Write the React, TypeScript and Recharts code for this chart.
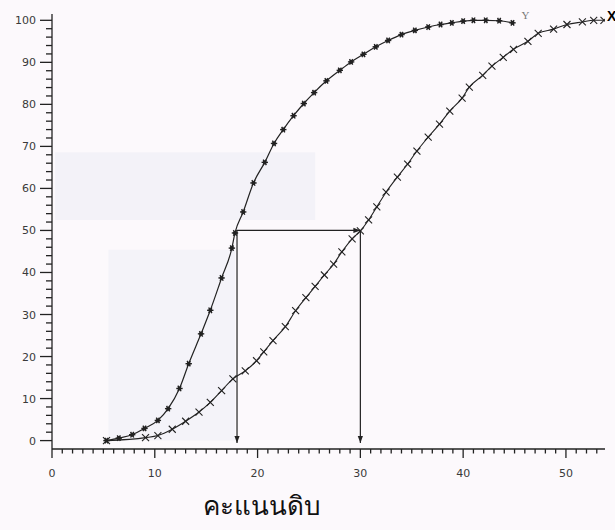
import React from "react";
import { LineChart, Line, XAxis, YAxis, ReferenceLine, ReferenceArea } from "recharts";

// curve Y (steeper, star markers)
const scoreY = [5.3, 6.5, 7.8, 9.0, 10.3, 11.3, 12.4, 13.3, 14.5, 15.4, 16.5, 17.5, 17.8, 18.6, 19.6, 20.7, 21.6, 22.5, 23.5, 24.5, 25.5, 26.7, 28.0, 29.1, 30.3, 31.5, 32.7, 34.0, 35.3, 36.6, 37.8, 38.9, 40.0, 41.0, 42.2, 43.5, 44.8];
const pctY = [0, 0.6, 1.4, 2.9, 4.8, 7.6, 12.4, 18.3, 25.4, 31.0, 38.7, 45.8, 49.4, 54.4, 61.3, 66.2, 70.7, 74.0, 77.3, 80.2, 82.8, 85.6, 88.1, 90.1, 91.9, 93.7, 95.2, 96.6, 97.6, 98.4, 99.0, 99.4, 99.8, 100, 100, 99.9, 99.4];

// curve X (cross markers)
const scoreX = [5.3, 9.1, 10.3, 11.7, 13.0, 14.3, 15.4, 16.5, 17.6, 18.8, 19.9, 20.6, 21.5, 22.7, 23.7, 24.7, 25.6, 26.5, 27.4, 28.2, 29.2, 30.0, 30.8, 31.6, 32.5, 33.6, 34.6, 35.5, 36.6, 37.7, 38.7, 39.9, 40.6, 41.9, 42.8, 43.9, 44.9, 46.3, 47.3, 48.8, 50.1, 51.6, 52.7, 53.7];
const pctX = [0, 0.7, 1.2, 2.7, 4.6, 6.8, 9.1, 11.9, 14.7, 16.6, 19.0, 21.1, 23.8, 27.1, 30.9, 34.0, 36.7, 39.4, 42.0, 44.9, 48.0, 49.9, 52.5, 55.6, 59.1, 62.7, 65.8, 68.9, 72.2, 75.3, 78.4, 81.5, 84.1, 86.9, 89.1, 91.2, 93.1, 95.0, 96.9, 97.9, 99.0, 99.6, 100, 100];

const xLabels = [0, 10, 20, 30, 40, 50];
const yLabels = [0, 10, 20, 30, 40, 50, 60, 70, 80, 90, 100];
const xTicks = Array.from({ length: 54 }, (_, i) => i);
const yTicks = Array.from({ length: 51 }, (_, i) => i * 2);

const dataY = scoreY.map((x, i) => ({ x, y: pctY[i] }));
const dataX = scoreX.map((x, i) => ({ x, y: pctX[i] }));

const INK = "#222";

const YTick = (props: any) => {
  const { x, y, payload } = props;
  const major = yLabels.includes(payload.value);
  return (
    <g>
      <line x1={x - (major ? 12 : 6)} x2={x} y1={y} y2={y} stroke={INK} strokeWidth={1.3} />
      {major && (
        <text x={x - 16} y={y} dy={4} textAnchor="end" fontSize={11} fill="#3a3a3a" fontFamily="DejaVu Sans">
          {payload.value}
        </text>
      )}
    </g>
  );
};

const XTick = (props: any) => {
  const { x, y, payload } = props;
  const major = xLabels.includes(payload.value);
  return (
    <g>
      <line x1={x} x2={x} y1={y} y2={y + (major ? 9 : 4.5)} stroke={INK} strokeWidth={1.3} />
      {major && (
        <text x={x} y={y + 28} textAnchor="middle" fontSize={11} fill="#3a3a3a" fontFamily="DejaVu Sans">
          {payload.value}
        </text>
      )}
    </g>
  );
};

const StarDot = (props: any) => {
  const { cx, cy, index } = props;
  const r = 3.2;
  return (
    <g key={`s${index}`} stroke={INK} strokeWidth={1.4}>
      <line x1={cx - r} y1={cy} x2={cx + r} y2={cy} />
      <line x1={cx - r / 2} y1={cy - r * 0.87} x2={cx + r / 2} y2={cy + r * 0.87} />
      <line x1={cx + r / 2} y1={cy - r * 0.87} x2={cx - r / 2} y2={cy + r * 0.87} />
      <circle cx={cx} cy={cy} r={1.3} fill={INK} />
    </g>
  );
};

const CrossDot = (props: any) => {
  const { cx, cy, index } = props;
  const r = 3.5;
  return (
    <g key={`c${index}`} stroke={INK} strokeWidth={1.1}>
      <line x1={cx - r} y1={cy - r} x2={cx + r} y2={cy + r} />
      <line x1={cx - r} y1={cy + r} x2={cx + r} y2={cy - r} />
    </g>
  );
};

const Arrow = (props: any) => {
  const { x1, y1, x2, y2 } = props;
  const dx = x2 - x1;
  const dy = y2 - y1;
  const len = Math.sqrt(dx * dx + dy * dy) || 1;
  const ux = dx / len;
  const uy = dy / len;
  const L = 7;
  const W = 2.6;
  const bx = x2 - ux * L;
  const by = y2 - uy * L;
  return (
    <g>
      <line x1={x1} y1={y1} x2={x2} y2={y2} stroke={INK} strokeWidth={1.2} />
      <path
        d={`M${x2},${y2} L${bx - uy * W},${by + ux * W} L${bx + uy * W},${by - ux * W} Z`}
        fill={INK}
      />
    </g>
  );
};

const endLabel = (text: string, last: number, style: any) => (props: any) => {
  const { x, y, index } = props;
  if (index !== last) return null;
  return (
    <text x={x + style.dx} y={y + style.dy} {...style.attrs}>
      {text}
    </text>
  );
};

export default function App() {
  return (
    <div style={{ position: "absolute", left: 0, top: 0, width: 615, height: 530, background: "#fcf9fc", overflow: "hidden" }}>
      <LineChart width={615} height={530} data={dataY} margin={{ top: 14, right: 10, left: 12, bottom: 51 }}>
        <XAxis
          type="number"
          dataKey="x"
          domain={[0, 53.8]}
          ticks={xTicks}
          interval={0}
          tick={<XTick />}
          tickLine={false}
          tickSize={0}
          tickMargin={0}
          height={30}
          stroke={INK}
          strokeWidth={1.3}
          allowDataOverflow
        />
        <YAxis
          type="number"
          domain={[-2, 101.5]}
          ticks={yTicks}
          interval={0}
          tick={<YTick />}
          tickLine={false}
          tickSize={0}
          tickMargin={0}
          width={40}
          stroke={INK}
          strokeWidth={1.3}
          allowDataOverflow
        />
        <ReferenceArea x1={0.3} x2={25.6} y1={52.5} y2={68.6} fill="#e6e9f3" fillOpacity={0.4} stroke="none" />
        <ReferenceArea x1={5.5} x2={17.8} y1={0} y2={45.4} fill="#e6e9f3" fillOpacity={0.35} stroke="none" />
        <ReferenceLine segment={[{ x: 18, y: 50 }, { x: 30, y: 50 }]} shape={Arrow} />
        <ReferenceLine segment={[{ x: 18, y: 50 }, { x: 18, y: -0.6 }]} shape={Arrow} />
        <ReferenceLine segment={[{ x: 30, y: 50 }, { x: 30, y: -0.6 }]} shape={Arrow} />
        <Line
          data={dataY}
          dataKey="y"
          type="monotone"
          stroke={INK}
          strokeWidth={1.2}
          dot={StarDot}
          activeDot={false}
          isAnimationActive={false}
          label={endLabel("Y", dataY.length - 1, {
            dx: 9,
            dy: -4,
            attrs: { fontSize: 11, fill: "#777", fontFamily: "Liberation Serif" },
          })}
        />
        <Line
          data={dataX}
          dataKey="y"
          type="monotone"
          stroke={INK}
          strokeWidth={1.1}
          dot={CrossDot}
          activeDot={false}
          isAnimationActive={false}
          label={endLabel("X", dataX.length - 1, {
            dx: 3,
            dy: 1,
            attrs: { fontSize: 14, fontWeight: "bold", fill: "#000", fontFamily: "Liberation Sans" },
          })}
        />
      </LineChart>
      <div
        style={{
          position: "absolute",
          left: 0,
          width: 524,
          top: 488,
          textAlign: "center",
          fontSize: 26,
          lineHeight: "34px",
          fontWeight: 400,
          color: "#111",
          fontFamily: "'Noto Sans', 'DejaVu Sans', sans-serif",
        }}
      >
        คะแนนดิบ
      </div>
    </div>
  );
}
